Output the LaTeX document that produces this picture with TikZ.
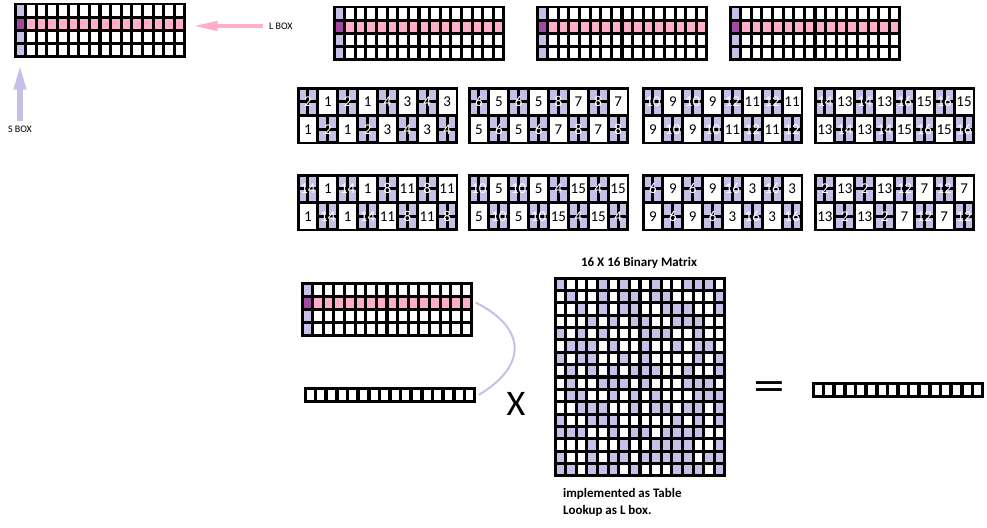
\documentclass[tikz,border=0pt]{standalone}
\usepackage{fontspec}
\setmainfont{Carlito}
\usetikzlibrary{arrows.meta, positioning}
\definecolor{BoxLavender}{RGB}{200, 191, 231}
\definecolor{BoxPink}{RGB}{255, 174, 201}
\definecolor{BoxPurple}{RGB}{163, 73, 164}

\tikzset{
    gridbox/.style={draw, line width=1.2pt, inner sep=0pt},
    lbl/.style={font=\fontsize{10}{12}\selectfont, inner sep=0pt},
    blocknum/.style={font=\fontsize{15}{15}\selectfont, inner sep=0pt},
    lboxarrow/.style={draw=BoxPink, line width=4pt, -{Triangle[length=25pt, width=9pt]}},
    sboxarrow/.style={draw=BoxLavender, line width=6pt, -{Triangle[length=27pt, width=11pt]}},
    linkcurve/.style={draw=BoxLavender, line width=2pt}
}

% 4 x 16 state: S box column and L box row
\newcommand{\stategrid}[3]{%
    \fill (#2,#3) rectangle ++(170,53);
    \foreach \r in {0,...,3} {
        \foreach \c in {0,...,15} {
            \ifnum\c=0
                \ifnum\r=1 \def\cellcol{BoxPurple}\else\def\cellcol{BoxLavender}\fi
            \else
                \ifnum\r=1 \def\cellcol{BoxPink}\else\def\cellcol{white}\fi
            \fi
            \fill[\cellcol] (#2+\c*10.625+1.5, #3+\r*13.25+1.5) rectangle ++(7.6, 10.2);
        }
    }
    \node[gridbox, minimum width=170, minimum height=53] (#1) at (#2+85, #3+26.5) {};
}

% one row of 16 bits
\newcommand{\vecrow}[3]{%
    \fill (#2,#3) rectangle ++(170,14);
    \foreach \c in {0,...,15}
        \fill[white] (#2+\c*10.625+1.8, #3+2) rectangle ++(7, 10);
    \node[gridbox, minimum width=170, minimum height=14] (#1) at (#2+85, #3+7) {};
}

% 2 x 8 blocks of numbers
\newcommand{\numblock}[7]{%
    \fill (#2,#3) rectangle ++(159,55);
    \foreach \gr in {0,1} {
        \foreach \gc in {0,...,7} {
            \pgfmathtruncatemacro{\lav}{mod(\gc+\gr+1,2)}
            \ifnum\gc<4 \def\numA{#4}\def\numB{#5}\else\def\numA{#6}\def\numB{#7}\fi
            \ifnum\lav=1
                \foreach \i in {0,1} \foreach \j in {0,1}
                    \fill[BoxLavender] (#2+\gc*19.875+\i*9.94+1.5, #3+\gr*27.5+\j*13.75+1.5) rectangle ++(6.9, 10.7);
                \node[blocknum, text=white] (#1-\gr-\gc) at (#2+\gc*19.875+9.94, #3+\gr*27.5+13.75) {\numA};
            \else
                \fill[white] (#2+\gc*19.875+1.5, #3+\gr*27.5+1.5) rectangle ++(16.9, 24.5);
                \node[blocknum] (#1-\gr-\gc) at (#2+\gc*19.875+9.94, #3+\gr*27.5+13.75) {\numB};
            \fi
        }
    }
    \node[gridbox, minimum width=159, minimum height=55] (#1) at (#2+79.5, #3+27.5) {};
}

\begin{document}
\begin{tikzpicture}[x=1pt, y=-1pt]
    \useasboundingbox (0,0) rectangle (987,527);

    % state grids
    \stategrid{g1}{15}{4}
    \stategrid{g2}{334}{7}
    \stategrid{g3}{537}{7}
    \stategrid{g4}{730}{7}

    \node[lbl, anchor=west] (lbox) at (269,26) {L BOX};
    \node[lbl] (sbox) at (20,129) {S BOX};
    \draw[lboxarrow, shorten <=6pt, shorten >=7pt] (lbox.west) -- (lbox.west -| g1.east);
    \draw[sboxarrow, shorten <=5pt, shorten >=5pt] (sbox.north) -- (sbox.north |- g1.south);

    % number blocks
    \numblock{b1}{298}{88}{2}{1}{4}{3}
    \numblock{b2}{469}{88}{6}{5}{8}{7}
    \numblock{b3}{643}{88}{10}{9}{12}{11}
    \numblock{b4}{815}{88}{14}{13}{16}{15}
    \numblock{b5}{298}{175}{14}{1}{8}{11}
    \numblock{b6}{469}{175}{10}{5}{4}{15}
    \numblock{b7}{643}{175}{6}{9}{16}{3}
    \numblock{b8}{815}{175}{2}{13}{12}{7}

    % state row times matrix
    \stategrid{gb}{302}{283}
    \vecrow{vin}{305}{388}
    \draw[linkcurve] ([shift={(3,-7)}]gb.east) .. controls +(50,25) and +(50,-30) .. ([xshift=3]vin.east);
    \node[font=\fontsize{36}{36}\selectfont, inner sep=0pt] (times) at (516,404) {X};

    \fill (555,278) rectangle ++(170,198);
    \foreach \r in {0,...,15}
        \foreach \c in {0,...,15}
            \fill[white] (555+\c*10.625+1.6, 278+\r*12.375+1.6) rectangle ++(7.4, 9.2);
    \foreach \cols [count=\r from 0] in {{0,4,6,9,12,13,14}, {1,4,6,7,9,10,15}, {2,4,6,7,10,11,12,15},
            {3,5,7,8,11,12,13}, {0,2,4,8,9,10,13}, {1,2,3,5,8,11,13,14},
            {0,2,3,6,8,13,15}, {1,3,5,7,8,9,12,15}, {1,4,5,6,8,12,13,14},
            {1,2,5,7,9,13,14,15}, {2,3,4,7,9,10,12,13,15}, {0,3,4,5,11,13,15},
            {0,1,2,5,7,8,10,11,12,13}, {3,6,9,10,11,12,15},
            {0,3,5,6,8,9,10,11,12,14,15}, {0,1,3,4,5,7,11,12,13,15}}
        \foreach \c in \cols
            \fill[BoxLavender] (555+\c*10.625+1.6, 278+\r*12.375+1.6) rectangle ++(7.4, 9.2);
    \node[gridbox, minimum width=170, minimum height=198] (mat) at (640,377) {};
    \node[font=\bfseries\fontsize{13}{15}\selectfont] (mtitle) at (639,263) {16 X 16 Binary Matrix};
    \node[font=\bfseries\fontsize{13}{17}\selectfont, align=left, anchor=north west, inner sep=0pt] (mnote) at (563,488) {implemented as Table\\Lookup as L box.};

    \node[font=\fontsize{44}{44}\selectfont, inner sep=0pt] (eq) at (769,391) {\scalebox{1.45}[1]{=}};
    \vecrow{vout}{813}{383}
\end{tikzpicture}
\end{document}
